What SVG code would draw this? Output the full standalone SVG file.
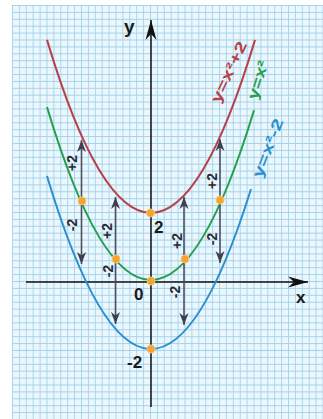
<svg xmlns="http://www.w3.org/2000/svg" width="323" height="419" viewBox="0 0 323 419">
<style>
.curve{fill:none;stroke-width:2}
.red{stroke:#b5414b}
.green{stroke:#22a04a}
.blue{stroke:#2b8fd0}
.axis{stroke:#111;stroke-width:1.5;fill:none}
.arr{stroke:#4f4f62;stroke-width:1.6;fill:none;marker-start:url(#sh);marker-end:url(#sh)}
.dot{fill:#f4a531;stroke:#f9c46a;stroke-width:1}
.lab{font-family:"Liberation Sans",Arial,sans-serif;fill:#1a1a1a;font-weight:bold}
.pm{font-family:"Liberation Sans",Arial,sans-serif;font-size:14px;fill:#2a2a35;font-weight:bold}
.cl{font-family:"Liberation Sans",Arial,sans-serif;font-size:15px;font-weight:bold}
</style>
<defs>
<pattern id="grid" patternUnits="userSpaceOnUse" x="12" y="5" width="6.9" height="6.9">
<rect width="6.9" height="6.9" fill="#ebf7fd"/>
<path d="M0,0 H6.9 M0,0 V6.9" stroke="#a3d3ea" stroke-width="1.8" fill="none"/>
</pattern>
<marker id="ah" viewBox="-21 -6 22 12" refX="0" refY="0" markerUnits="userSpaceOnUse" markerWidth="22" markerHeight="12" orient="auto">
<path d="M0,0 L-20,-5.5 L-14,0 L-20,5.5 Z" fill="#111"/>
</marker>
<marker id="sh" viewBox="-13 -5 14 10" refX="0" refY="0" markerUnits="userSpaceOnUse" markerWidth="14" markerHeight="10" orient="auto-start-reverse">
<path d="M0,0 L-12,-4.5 L-8.5,0 L-12,4.5 Z" fill="#3f3f52"/>
</marker>
</defs>
<rect width="323" height="419" fill="#fff"/>
<rect x="12" y="5" width="311" height="414" fill="url(#grid)"/>
<g id="axes">
<path class="axis" d="M151,407 V20" marker-end="url(#ah)"/>
<path class="axis" d="M26,282 H308" marker-end="url(#ah)"/>
<text class="lab" x="124" y="33" font-size="19">y</text>
<text class="lab" x="296" y="303" font-size="17">x</text>
<text class="lab" x="134" y="300" font-size="17">0</text>
<text class="lab" x="154" y="233" font-size="17">2</text>
<text class="lab" x="127" y="368" font-size="17">-2</text>
</g>
<g id="curves">
<path id="c-red" class="curve red" d="M47,39.9 Q151,386 255,39.9"/>
<path id="c-green" class="curve green" d="M47,107 Q150.5,451.4 254,110.3"/>
<path id="c-blue" class="curve blue" d="M47,176 Q149,515.4 251,189"/>
</g>
<g id="curve-labels">
<text class="cl" fill="#b5414b" transform="translate(229,72) rotate(-65)" text-anchor="middle" dy="5" textLength="66" lengthAdjust="spacingAndGlyphs">y=x²+2</text>
<text class="cl" fill="#22a04a" transform="translate(258,80) rotate(-73)" text-anchor="middle" dy="5" textLength="40" lengthAdjust="spacingAndGlyphs">y=x²</text>
<text class="cl" fill="#2b8fd0" transform="translate(268,148) rotate(-69)" text-anchor="middle" dy="5" textLength="62" lengthAdjust="spacingAndGlyphs">y=x²-2</text>
</g>
<g id="connectors">
<path class="arr" d="M81.5,140 V264"/>
<path class="arr" d="M115.5,197 V324"/>
<path class="arr" d="M184,197 V325"/>
<path class="arr" d="M220,139 V263"/>
</g>
<g id="shift-labels">
<text class="pm" transform="translate(72,163) rotate(-90)" text-anchor="middle" dy="5">+2</text>
<text class="pm" transform="translate(72,225) rotate(-90)" text-anchor="middle" dy="5">-2</text>
<text class="pm" transform="translate(107,231) rotate(-90)" text-anchor="middle" dy="5">+2</text>
<text class="pm" transform="translate(108,271) rotate(-90)" text-anchor="middle" dy="5">-2</text>
<text class="pm" transform="translate(177,241) rotate(-90)" text-anchor="middle" dy="5">+2</text>
<text class="pm" transform="translate(175,292) rotate(-90)" text-anchor="middle" dy="5">-2</text>
<text class="pm" transform="translate(212,181) rotate(-90)" text-anchor="middle" dy="5">+2</text>
<text class="pm" transform="translate(212,239) rotate(-90)" text-anchor="middle" dy="5">-2</text>
</g>
<g id="points">
<circle id="p1" class="dot" cx="150.5" cy="213" r="4"/>
<circle id="p2" class="dot" cx="151" cy="281" r="4"/>
<circle id="p3" class="dot" cx="151" cy="349" r="4"/>
<circle id="p4" class="dot" cx="116" cy="259" r="4"/>
<circle id="p5" class="dot" cx="185" cy="259" r="4"/>
<circle id="p6" class="dot" cx="82" cy="201" r="4"/>
<circle id="p7" class="dot" cx="220" cy="200" r="4"/>
</g>
</svg>
